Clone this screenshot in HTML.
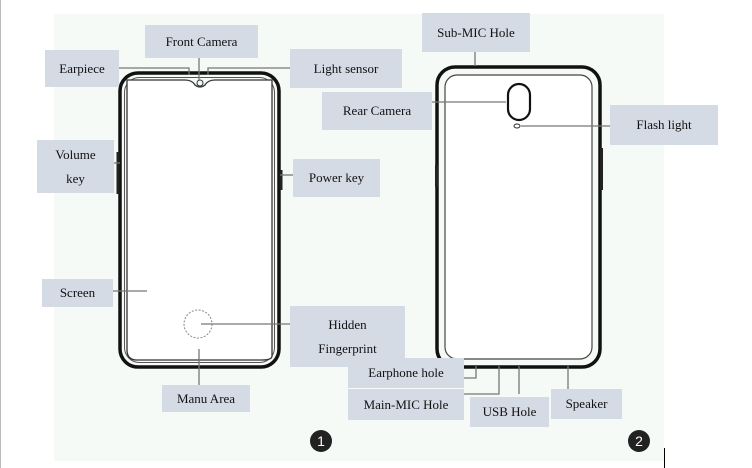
<!DOCTYPE html>
<html><head><meta charset="utf-8"><style>
html,body{margin:0;padding:0;background:#fff;}
body{width:752px;height:468px;overflow:hidden;position:relative;font-family:"Liberation Serif",serif;}
.b{position:absolute;background:#d5dbe5;color:#111;font-size:13px;display:flex;align-items:center;justify-content:center;text-align:center;line-height:24px;}
</style></head><body>
<div style="position:absolute;left:0;top:0;width:1px;height:468px;background:#bbb"></div>
<div style="position:absolute;left:54px;top:14px;width:610px;height:447px;background:#f6faf6"></div>
<div style="position:absolute;left:664px;top:448px;width:1px;height:20px;background:#000"></div>
<svg width="752" height="468" style="position:absolute;left:0;top:0">
<!-- phone 1 -->
<rect x="120" y="73" width="159" height="294" rx="18" fill="none" stroke="#111" stroke-width="3.5"/>
<rect x="124.5" y="77.5" width="150" height="285" rx="15" fill="none" stroke="#555" stroke-width="1"/>
<path d="M127,80 L185,80 Q192,80 195,85 Q200,89 205,85 Q208,80 215,80 L272,80 L272,356 Q272,360 262,360 L137,360 Q127,360 127,350 Z" fill="#fff" stroke="#333" stroke-width="1.3"/>
<circle cx="200" cy="83" r="3" fill="none" stroke="#333"/>
<rect x="116.5" y="152" width="3" height="42" fill="#222"/>
<rect x="279.5" y="170" width="3" height="20" fill="#222"/>
<circle cx="198" cy="324" r="14" fill="none" stroke="#888" stroke-width="1" stroke-dasharray="2,1.5"/>
<!-- phone 2 -->
<rect x="437" y="67" width="163" height="300" rx="18" fill="none" stroke="#111" stroke-width="3.5"/>
<rect x="445" y="75" width="147" height="284" rx="12" fill="#fff" stroke="#444" stroke-width="1.2"/>
<rect x="508" y="84" width="22" height="36" rx="11" fill="none" stroke="#111" stroke-width="2.2"/>
<ellipse cx="517" cy="126" rx="3" ry="2" fill="none" stroke="#333"/>
<rect x="435" y="165" width="3" height="22" fill="#222"/>
<rect x="600" y="148" width="3" height="42" fill="#222"/>
<g fill="none" stroke="#777" stroke-width="1.3">
<polyline points="119,68 189,68 189,75"/>
<line x1="199" y1="58" x2="199" y2="80"/>
<polyline points="290,68 208,68 208,75"/>
<line x1="114" y1="163" x2="120" y2="163"/>
<line x1="280" y1="175" x2="293" y2="175"/>
<line x1="113" y1="291" x2="147" y2="291"/>
<line x1="201" y1="324" x2="292" y2="324"/>
<line x1="199" y1="349" x2="199" y2="385"/>
<line x1="475" y1="52" x2="475" y2="66"/>
<line x1="432" y1="102" x2="506" y2="102"/>
<line x1="521" y1="126" x2="610" y2="126"/>
<polyline points="464,378 476,378 476,366"/>
<polyline points="464,394 499,394 499,366"/>
<line x1="519" y1="366" x2="519" y2="394"/>
<line x1="568" y1="366" x2="568" y2="389"/>
</g>
<circle cx="321" cy="441" r="11" fill="#222"/>
<text x="321" y="446" fill="#fff" font-family="Liberation Sans" font-size="14" text-anchor="middle">1</text>
<circle cx="639" cy="441" r="11" fill="#222"/>
<text x="639" y="446" fill="#fff" font-family="Liberation Sans" font-size="14" text-anchor="middle">2</text>
</svg>
<div class="b" style="left:145px;top:25px;width:113px;height:33px">Front Camera</div>
<div class="b" style="left:45px;top:50px;width:74px;height:37px">Earpiece</div>
<div class="b" style="left:290px;top:49px;width:112px;height:39px">Light sensor</div>
<div class="b" style="left:37px;top:140px;width:77px;height:53px">Volume<br>key</div>
<div class="b" style="left:293px;top:159px;width:87px;height:38px">Power key</div>
<div class="b" style="left:42px;top:279px;width:71px;height:28px">Screen</div>
<div class="b" style="left:290px;top:306px;width:115px;height:61px">Hidden<br>Fingerprint</div>
<div class="b" style="left:162px;top:385px;width:88px;height:27px">Manu Area</div>
<div class="b" style="left:422px;top:13px;width:108px;height:39px">Sub-MIC Hole</div>
<div class="b" style="left:322px;top:92px;width:110px;height:38px">Rear Camera</div>
<div class="b" style="left:610px;top:105px;width:108px;height:40px">Flash light</div>
<div class="b" style="left:348px;top:358px;width:116px;height:30px">Earphone hole</div>
<div class="b" style="left:348px;top:389px;width:116px;height:31px">Main-MIC Hole</div>
<div class="b" style="left:470px;top:397px;width:79px;height:30px">USB Hole</div>
<div class="b" style="left:551px;top:389px;width:71px;height:30px">Speaker</div>
</body></html>
